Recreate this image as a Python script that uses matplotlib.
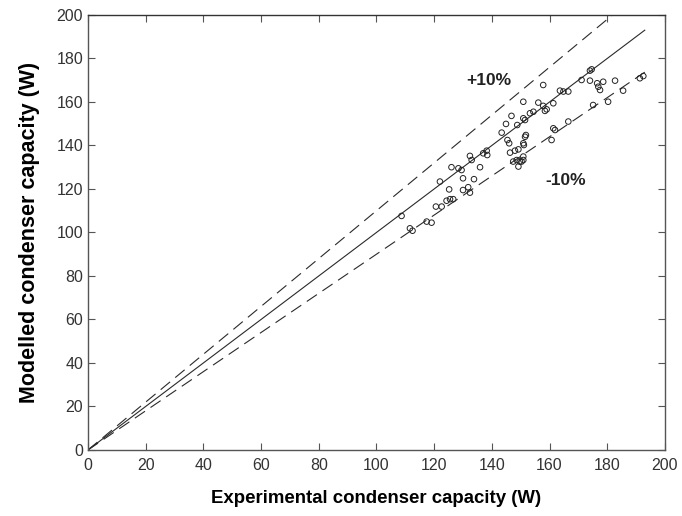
import matplotlib
matplotlib.use("Agg")
import matplotlib.pyplot as plt
import numpy as np

plt.rcParams['font.family'] = ['Liberation Sans', 'DejaVu Sans']

exp_x = [108.7, 111.6, 112.5, 117.4, 119.1, 122.0, 120.6, 122.6, 124.3, 125.5,
         126.6, 125.2, 126.0, 128.4, 129.5, 130.0, 130.0, 131.8, 132.4, 133.8,
         132.4, 133.0, 135.9, 137.0, 138.2, 138.4, 143.4, 144.9, 146.8, 145.4,
         146.0, 146.3, 148.0, 149.2, 147.4, 148.6, 149.7, 149.2, 150.9, 151.1,
         151.8, 148.8, 157.8, 150.9, 156.1, 157.8, 161.3, 159.0, 158.4, 154.4,
         153.2, 150.9, 151.5, 163.6, 164.8, 166.5, 171.1, 174.0, 174.0, 176.5,
         178.6, 182.7, 176.9, 177.5, 180.3, 185.5, 191.3, 192.5, 175.1, 166.5,
         161.3, 161.9, 160.7, 150.9, 151.5, 150.9, 150.3, 174.6]
mod_y = [107.6, 101.9, 100.8, 105.0, 104.5, 123.4, 111.9, 111.9, 114.6, 115.3,
         115.3, 119.8, 130.0, 129.5, 128.7, 124.9, 119.5, 120.8, 118.3, 124.5,
         135.2, 133.3, 130.0, 136.4, 137.6, 135.6, 145.9, 149.9, 153.6, 142.5,
         141.0, 136.7, 137.6, 138.2, 132.6, 133.3, 132.6, 130.3, 133.3, 140.2,
         144.8, 149.4, 167.8, 160.1, 159.7, 158.2, 159.4, 156.6, 155.9, 155.5,
         154.8, 152.5, 151.7, 165.2, 164.8, 164.8, 170.1, 174.4, 169.8, 168.6,
         169.3, 169.8, 167.0, 165.5, 160.1, 165.2, 170.9, 171.9, 158.6, 151.0,
         147.9, 147.1, 142.5, 141.0, 144.0, 134.9, 132.6, 175.0]

line_x = [0, 193]
bands = [1.0, 1.1, 0.9]
band_labels = ['+10%', '-10%']
x_ticks = list(range(0, 201, 20))
y_ticks = list(range(0, 201, 20))

fig = plt.figure(figsize=(6.82, 5.16), dpi=100)
ax = fig.add_axes([0.129, 0.128, 0.846, 0.843])

lx = np.array(line_x, dtype=float)
ax.plot(lx, lx * bands[0], color='#2a2a2a', lw=0.8)
ax.plot(lx, lx * bands[1], color='#2a2a2a', lw=0.8, dashes=(11, 6))
ax.plot(lx, lx * bands[2], color='#2a2a2a', lw=0.8, dashes=(11, 6))

ax.scatter(exp_x, mod_y, s=16, facecolors='none', edgecolors='#222222', linewidths=0.7, zorder=3)

ax.text(131, 170, band_labels[0], fontsize=12.5, fontweight='bold', ha='left', va='center', color='#222222')
ax.text(158.5, 124, band_labels[1], fontsize=12.5, fontweight='bold', ha='left', va='center', color='#222222')

ax.set_xlim(0, 200)
ax.set_ylim(0, 200)
ax.set_xticks(x_ticks)
ax.set_yticks(y_ticks)
ax.tick_params(direction='in', top=True, right=True, length=5, width=0.8,
               colors='#555555', labelcolor='#333333', labelsize=11.5)
ax.tick_params(axis='x', pad=6)
for sp in ax.spines.values():
    sp.set_color('#555555')
    sp.set_linewidth(1.0)
ax.spines['top'].set_color('#333333')

ax.set_xlabel('Experimental condenser capacity (W)', fontsize=13.4, fontweight='bold', labelpad=12)
ax.set_ylabel('Modelled condenser capacity (W)', fontsize=15.5, fontweight='bold', labelpad=12)

fig.savefig('out.png', dpi=100)
